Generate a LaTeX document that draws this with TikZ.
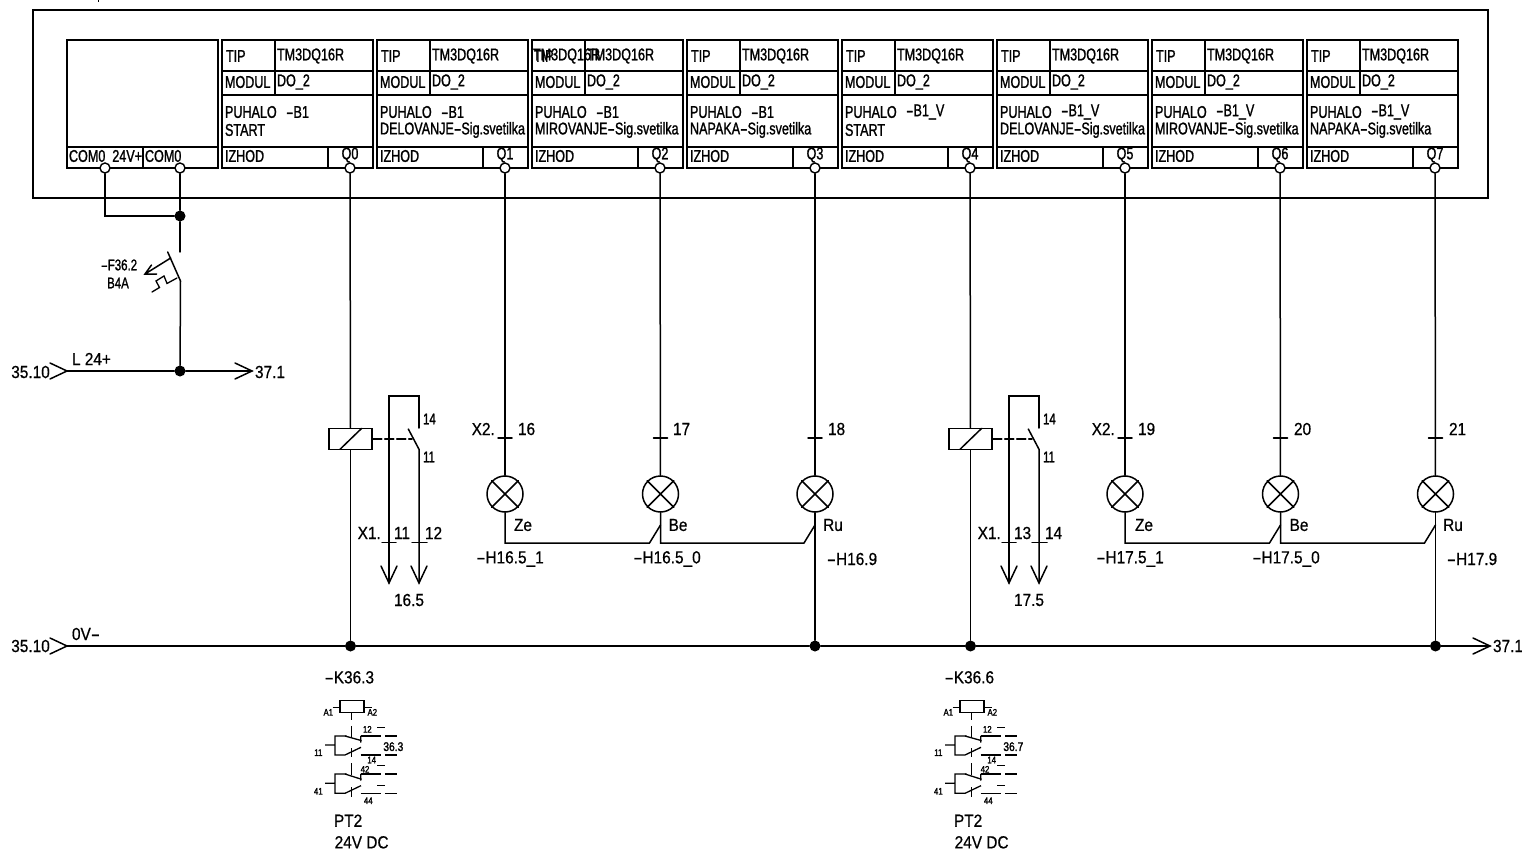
\documentclass[tikz,border=0pt]{standalone}
\usepackage{fontspec}
\usetikzlibrary{calc}
\setmainfont{Liberation Sans}
\newfontfamily\cadmfam[FakeStretch=0.74,FakeBold=1.2]{Liberation Sans}
\newfontfamily\cadlfam[FakeStretch=0.88,FakeBold=0.6]{Liberation Sans}
\newfontfamily\cadsfam[FakeStretch=0.82,FakeBold=1.6]{Liberation Sans}
\newcommand{\cadm}{\cadmfam\fontsize{17}{17}\selectfont}
\newcommand{\cadl}{\cadlfam\fontsize{17.5}{17.5}\selectfont}
\newcommand{\cadc}{\cadmfam\fontsize{15.5}{15.5}\selectfont}
\newcommand{\cads}{\cadsfam\fontsize{9.5}{9.5}\selectfont}
\newcommand{\cadt}{\cadsfam\fontsize{12.5}{12.5}\selectfont}
\newcommand{\dd}{\scalebox{1.8}[1]{-}}
\tikzset{
  wire/.style={line width=1.5pt,line cap=round,line join=miter},
  frame/.style={line width=1.6pt,line join=miter},
  txt/.style={inner sep=0pt,outer sep=0pt,anchor=west},
  ctxt/.style={inner sep=0pt,outer sep=0pt,anchor=center},
  pinnode/.style={circle,draw,line width=1.4pt,fill=white,minimum size=10pt,inner sep=0pt},
  dotnode/.style={circle,fill=black,minimum size=11pt,inner sep=0pt},
  lampnode/.style={circle,draw,line width=1.5pt,minimum size=36pt,inner sep=0pt},
  coilnode/.style={rectangle,draw,line width=1.5pt,minimum width=43pt,minimum height=21pt,inner sep=0pt},
  thin part/.style={line width=1.3pt},
}
% #1 index, #2 left, #3 tag after PUHALO, #4 second line
\newcommand{\modbox}[4]{
  \draw[frame] (#2,40) rectangle (#2+151,168);
  \draw[frame] (#2,71) -- (#2+151,71) (#2,95) -- (#2+151,95) (#2,147) -- (#2+151,147);
  \draw[frame] (#2+53,40) -- (#2+53,95) (#2+106,147) -- (#2+106,168);
  \node[txt,font=\cadm] (tval#1) at (#2+55,56) {TM3DQ16R};
  \node[txt,font=\cadm] (mod#1) at (#2+3,82) {MODUL};
  \node[txt,font=\cadm] (do#1) at (#2+55,82) {DO\_2};
  \node[txt,font=\cadm] (puh#1) at (#2+3,112) {PUHALO};
  \node[txt,font=\cadm] (tag#1) at (#2+64,112) {\dd #3};
  \node[txt,font=\cadm] (sec#1) at (#2+3,130) {#4};
  \node[txt,font=\cadm] (izh#1) at (#2+3,156) {IZHOD};
  \node[ctxt,font=\cadm] (qt#1) at (#2+128,155) {Q#1};
  \node[pinnode] (q#1) at (#2+128,168) {};
}
% #1 name, #2 x, #3 pin
\newcommand{\lampunit}[3]{
  \node[lampnode] (lamp#1) at (#2,494) {};
  \draw[wire] (lamp#1.north west) -- (lamp#1.south east) (lamp#1.north east) -- (lamp#1.south west);
  \draw[wire] (q#3) -- (lamp#1);
  \coordinate (tk#1) at (#2,438);
  \draw[wire] ($(tk#1)+(-7,0)$) -- ($(tk#1)+(7,0)$);
}
% relay symbol: #1 name, #2 x origin, #3 contact label, #4 tag
\newcommand{\relaysym}[4]{
\begin{scope}[xshift=#2pt,yshift=-650pt,x=0.3333pt,y=-0.3333pt]
  \node[ctxt,font=\cadl] (kn#1) at (178,82) {\dd K#4};
  \draw[thin part] (150,152) rectangle (222,187);
  \draw[thin part] (128,172) -- (150,172) (222,172) -- (245,172);
  \node[ctxt,font=\cads] (aa#1) at (115,187) {A1};
  \node[ctxt,font=\cads] (ab#1) at (247,187) {A2};
  \draw[thin part] (185,190) -- (185,210) (185,228) -- (185,262) (185,295) -- (185,322)
    (185,340) -- (185,375) (185,412) -- (185,440);
  % first contact
  \draw[thin part] (105,285) -- (135,285) (170,258) -- (135,258) -- (135,315) -- (165,315) -- (213,292);
  \draw[thin part] (165,258) -- (215,272) (212,258) -- (212,278);
  \draw[thin part] (212,258) -- (272,258) (212,315) -- (272,315);
  \draw[thin part] (262,232) -- (285,232) (285,258) -- (322,258) (285,315) -- (322,315);
  \node[ctxt,font=\cads] (c1#1) at (232,238) {12};
  \node[ctxt,font=\cads] (c2#1) at (245,330) {14};
  \node[ctxt,font=\cads] (c3#1) at (85,308) {11};
  \node[ctxt,font=\cadt] (c4#1) at (310,290) {#3};
  % second contact
  \draw[thin part] (105,400) -- (135,400) (170,372) -- (135,372) -- (135,430) -- (165,430) -- (213,407);
  \draw[thin part] (165,372) -- (215,388) (212,372) -- (212,392);
  \draw[thin part] (212,372) -- (272,372) (212,430) -- (272,430);
  \draw[thin part] (262,347) -- (285,347) (262,407) -- (285,407) (285,372) -- (322,372) (285,430) -- (322,430);
  \node[ctxt,font=\cads] (c5#1) at (225,358) {42};
  \node[ctxt,font=\cads] (c6#1) at (235,452) {44};
  \node[ctxt,font=\cads] (c7#1) at (85,424) {41};
  \node[txt,font=\cadl] (pt#1) at (132,512) {PT2};
  \node[txt,font=\cadl] (vd#1) at (134,577) {24V DC};
\end{scope}
}
% coil and contact: #1 name, #2 offset, #3 pin, #4 #5 terminals, #6 target
\newcommand{\relaycontact}[6]{
\begin{scope}[xshift=#2pt]
  \node[coilnode] (coil#1) at (350.5,438.8) {};
  \draw[wire] (340,449.3) -- (361.7,428.3);
  \draw[wire] (q#3) -- (coil#1);
  \coordinate (bl#1) at (389,396);
  \coordinate (br#1) at (419,396);
  \coordinate (ct#1) at (419,428);
  \coordinate (cb#1) at (419,449.3);
  \coordinate (ta#1) at (389,583);
  \coordinate (tb#1) at (419,583);
  \coordinate (bt#1) at (408.3,429);
  \draw[wire] (ct#1) -- (br#1) -- (bl#1) -- (ta#1);
  \draw[wire] (bt#1) -- (cb#1) -- (tb#1);
  \draw[wire] (ta#1) ++(-8,-17) -- (ta#1) -- ++(8,-17);
  \draw[wire] (tb#1) ++(-8,-17) -- (tb#1) -- ++(8,-17);
  \draw[wire,dash pattern=on 9pt off 3pt] (coil#1.east) -- (412,438.8);
  \draw[wire] (382,542.5) -- (396,542.5) (412,542.5) -- (427,542.5);
  \node[txt,font=\cadc] (tu#1) at (423,419) {14};
  \node[txt,font=\cadc] (td#1) at (423,457) {11};
  \node[anchor=east,inner sep=0pt,font=\cadl] (xa#1) at (381,533) {X1.};
  \node[txt,font=\cadl] (xb#1) at (394,533) {#4};
  \node[txt,font=\cadl] (xc#1) at (425,533) {#5};
  \node[ctxt,font=\cadl] (xd#1) at (409,600) {#6};
\end{scope}
}
\begin{document}
\begin{tikzpicture}[x=1pt,y=-1pt]
\useasboundingbox (0,0) rectangle (1522,850);
\fill[white] (0,0) rectangle (1522,850);
\fill[black] (97.5,0) rectangle (99,2.5);
% outer frame
\draw[frame] (33,10) rectangle (1488,198);
% power box
\draw[frame] (67,40) rectangle (218,168);
\draw[frame] (67,147) -- (218,147) (143,147) -- (143,168);
\node[txt,font=\cadm] (como) at (69,156) {COM0\ \ 24V+};
\node[txt,font=\cadm] (comb) at (145,156) {COM0};
\node[pinnode] (pa) at (105,168) {};
\node[pinnode] (pb) at (180,168) {};
% modules
\modbox{0}{222}{B1}{START}
\modbox{1}{377}{B1}{DELOVANJE\dd Sig.svetilka}
\modbox{2}{532}{B1}{MIROVANJE\dd Sig.svetilka}
\modbox{3}{687}{B1}{NAPAKA\dd Sig.svetilka}
\modbox{4}{842}{B1\_V}{START}
\modbox{5}{997}{B1\_V}{DELOVANJE\dd Sig.svetilka}
\modbox{6}{1152}{B1\_V}{MIROVANJE\dd Sig.svetilka}
\modbox{7}{1307}{B1\_V}{NAPAKA\dd Sig.svetilka}
\node[txt,font=\cadm] (tipa) at (226,56) {TIP};
\node[txt,font=\cadm] (tipb) at (381,56) {TIP};
\node[txt,font=\cadm] (tipc) at (534,56) {TIP};
\node[txt,font=\cadm] (tipcb) at (533,56) {TM3DQ16R};
\node[txt,font=\cadm] (tipd) at (691,56) {TIP};
\node[txt,font=\cadm] (tipe) at (846,56) {TIP};
\node[txt,font=\cadm] (tipf) at (1001,56) {TIP};
\node[txt,font=\cadm] (tipg) at (1156,56) {TIP};
\node[txt,font=\cadm] (tiph) at (1311,56) {TIP};
% power wiring
\node[dotnode] (dta) at (180,216) {};
\coordinate (cna) at (105,216);
\coordinate (brtop) at (180,252);
\coordinate (brbot) at (180.5,281);
\coordinate (brtip) at (167.7,252);
\node[dotnode] (dtb) at (180,371) {};
\draw[wire] (pa) -- (cna) -- (dta);
\draw[wire] (pb) -- (dta) -- (brtop);
\draw[wire] (brtip) -- (brbot) -- (dtb);
\draw[wire] (170.7,258) -- (145,274) (156.5,274) -- (145,274) -- (151.5,265);
\draw[wire,line width=1.3pt] (177,278) -- (167,283.5) -- (164,276) -- (156,281) -- (159.5,287.5) -- (152,292);
\node[ctxt,font=\cadc] (fa) at (119,265) {\dd F36.2};
\node[ctxt,font=\cadc] (fb) at (118,283) {B4A};
\coordinate (laL) at (67,371);
\coordinate (laR) at (252,371);
\draw[wire] (laL) -- (dtb) -- (laR);
\draw[wire] (laL) ++(-17,-8) -- (laL) -- ++(-17,8);
\draw[wire] (laR) ++(-17,-8) -- (laR) -- ++(-17,8);
\node[anchor=east,inner sep=0pt,font=\cadl] (ina) at (50,372) {35.10};
\node[txt,font=\cadl] (lname) at (72,359) {L 24+};
\node[txt,font=\cadl] (outa) at (255,372) {37.1};
% bus
\coordinate (buL) at (67,646);
\coordinate (buR) at (1490,646);
\node[dotnode] (d1) at (350.5,646) {};
\node[dotnode] (d2) at (815,646) {};
\node[dotnode] (d3) at (970.5,646) {};
\node[dotnode] (d4) at (1435.5,646) {};
\draw[wire] (buL) -- (d1) -- (d2) -- (d3) -- (d4) -- (buR);
\draw[wire] (buL) ++(-17,-8) -- (buL) -- ++(-17,8);
\draw[wire] (buR) ++(-17,-8) -- (buR) -- ++(-17,8);
\node[anchor=east,inner sep=0pt,font=\cadl] (inb) at (50,646) {35.10};
\node[txt,font=\cadl] (oname) at (72,634) {0V\dd};
\node[txt,font=\cadl] (outb) at (1493,646) {37.1};
% relays
\relaycontact{A}{0}{0}{11}{12}{16.5}
\relaycontact{B}{620}{4}{13}{14}{17.5}
\draw[wire] (coilA) -- (d1);
\draw[wire] (coilB) -- (d3);
\relaysym{A}{290}{36.3}{36.3}
\relaysym{B}{910}{36.7}{36.6}
% lamps
\lampunit{1}{505}{1}
\lampunit{2}{660.5}{2}
\lampunit{3}{815}{3}
\lampunit{5}{1125}{5}
\lampunit{6}{1280.5}{6}
\lampunit{7}{1435.5}{7}
\foreach \a/\b/\xx/\yy in {1/2/505/660.5,2/3/660.5/815,5/6/1125/1280.5,6/7/1280.5/1435.5}{
  \coordinate (ja\a) at (\xx,543);
  \coordinate (jb\a) at (\yy-11,543);
  \coordinate (jc\a) at (\yy,525);
  \draw[wire] (lamp\a) -- (ja\a) -- (jb\a) -- (jc\a);
}
\draw[wire] (lamp3) -- (d2);
\draw[wire] (lamp7) -- (d4);
% lamp labels
\node[anchor=east,inner sep=0pt,font=\cadl] (xh1) at (495,429) {X2.};
\node[txt,font=\cadl] (n16) at (518,429) {16};
\node[txt,font=\cadl] (n17) at (673,429) {17};
\node[txt,font=\cadl] (n18) at (828,429) {18};
\node[anchor=east,inner sep=0pt,font=\cadl] (xh2) at (1115,429) {X2.};
\node[txt,font=\cadl] (n19) at (1138,429) {19};
\node[txt,font=\cadl] (n20) at (1294,429) {20};
\node[txt,font=\cadl] (n21) at (1449,429) {21};
\node[ctxt,font=\cadl] (ze1) at (523,525) {Ze};
\node[ctxt,font=\cadl] (be1) at (678,525) {Be};
\node[ctxt,font=\cadl] (ru1) at (833,525) {Ru};
\node[ctxt,font=\cadl] (ze2) at (1144,525) {Ze};
\node[ctxt,font=\cadl] (be2) at (1299,525) {Be};
\node[ctxt,font=\cadl] (ru2) at (1453,525) {Ru};
\node[ctxt,font=\cadl] (ha) at (510,559) {\dd H16.5\_1};
\node[ctxt,font=\cadl] (hb) at (667,559) {\dd H16.5\_0};
\node[ctxt,font=\cadl] (hc) at (852,559) {\dd H16.9};
\node[ctxt,font=\cadl] (hd) at (1130,559) {\dd H17.5\_1};
\node[ctxt,font=\cadl] (he) at (1286,559) {\dd H17.5\_0};
\node[ctxt,font=\cadl] (hf) at (1472,559) {\dd H17.9};
\end{tikzpicture}
\end{document}
